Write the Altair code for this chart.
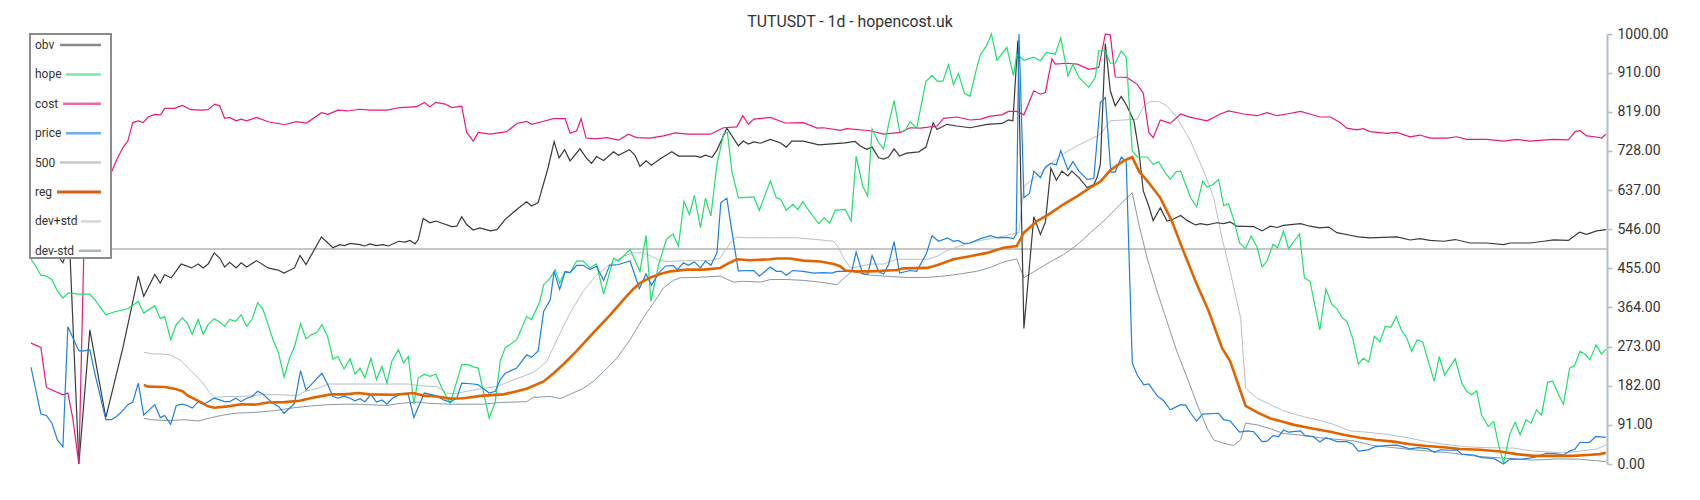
import altair as alt
import pandas as pd

title_text = "TUTUSDT - 1d - hopencost.uk"
legend_names = ["obv", "hope", "cost", "price", "500", "reg", "dev+std", "dev-std"]
y_ticks = [0, 91, 182, 273, 364, 455, 546, 637, 728, 819, 910, 1000]
ref_level = [500]

# (day, value) pairs
obv_pts = [(0,510),(2,515),(4,500),(5.8,468),(7,515),(8.7,0),(10.7,312),(13.6,108),(16.7,270),(19.5,437),(20.5,390),(22.5,441),(23.5,421),(24.3,440),(25.5,433),(27.3,465),(29.2,456),(30.4,465),(31.3,456),(32.2,465),(33.3,491),(34.3,479),(35.2,458),(36.1,469),(37.3,456),(38.2,468),(39.2,458),(41,473),(43.1,456),(44.9,451),(46,444),(47.9,456),(48.9,485),(50,464),(52.8,528),(54.9,503),(56.1,510),(57,508),(58,513),(59.8,510),(60.7,507),(61.6,512),(62.8,508),(64,510),(65,507),(66.8,518),(68,516),(68.9,520),(69.8,512),(70.4,522),(71.3,571),(72.5,561),(73.6,565),(76.5,552),(77.4,553),(78.3,575),(79.2,557),(80.4,544),(81.6,549),(83.5,542),(84.7,545),(86.2,569),(88.3,592),(90.1,610),(91,600),(92.2,608),(94,689),(95.1,750),(96,712),(97,731),(98,705),(99.8,733),(101,711),(101.9,699),(102.8,715),(104.1,706),(105.9,726),(106.8,718),(108.8,731),(109.8,718),(110.7,692),(111.8,705),(112.8,695),(114.4,710),(116.5,726),(117.7,716),(119.2,716),(120.8,716),(121.7,713),(122.6,718),(123.8,713),(124.7,730),(126.5,781),(128.6,740),(129.5,751),(130.4,744),(131.4,749),(132.6,746),(134.4,755),(136.2,747),(137.3,737),(138.3,751),(140.4,751),(143.2,742),(145,744),(148,747),(149.8,750),(150.7,740),(151.9,732),(152.9,737),(154.1,712),(155,709),(155.9,714),(156.9,733),(157.9,716),(159.2,723),(161.4,726),(162.7,737),(164,793),(164.7,778),(166.5,790),(168.3,786),(170.7,782),(173.8,790),(176.5,792),(177.7,800),(178.5,798),(179.4,985),(180.5,315),(182.3,575),(183.5,534),(184.4,562),(185.4,688),(186.4,660),(187.4,681),(188.5,670),(189.2,681),(190.5,666),(192,643),(193.2,650),(193.8,666),(194.4,697),(195.3,978),(196.2,868),(197.1,833),(198.2,855),(199.2,833),(200.5,798),(201.4,728),(202.2,635),(203.2,600),(204,566),(205.3,596),(206.5,565),(207.4,568),(209,578),(210.2,566),(211.7,556),(212.6,559),(213.8,556),(215.6,561),(216.8,559),(218,563),(219.2,553),(222.3,552),(223.8,542),(225.3,553),(226.5,550),(227.7,555),(230.8,559),(232.5,553),(234.3,549),(235.9,551),(237.4,538),(239.8,532),(241.3,528),(243.4,526),(245.8,527),(248.3,528),(250.7,521),(252.5,524),(254.3,520),(256.8,518),(258.9,522),(261.6,514),(264.6,514),(267.7,510),(268.9,514),(272.5,514),(275,518),(276.8,521),(279.5,520),(281.5,539),(282.8,534),(284.6,542),(286.3,545)]

hope_pts = [(0,476),(0.7,464),(1.8,439),(2.8,437),(3.8,429),(4.8,402),(5.8,386),(6.8,398),(8.7,395),(10.7,395),(11.6,382),(13.6,347),(15.2,354),(17.6,361),(19.5,378),(20.5,351),(22.5,368),(23.5,338),(24.3,343),(25.4,289),(26.4,324),(27.5,340),(28.4,328),(29.3,302),(30.4,336),(31.3,302),(32.2,324),(33.3,338),(34.3,330),(35.2,320),(36.1,336),(37.2,332),(38.2,347),(39.2,320),(40.2,337),(41.2,375),(42.2,359),(44,289),(45,258),(46,202),(47,246),(47.9,273),(49,326),(50,291),(51,301),(51.9,305),(52.9,324),(53.9,297),(54.9,244),(55.8,250),(56.9,221),(58,245),(58.9,209),(59.8,223),(60.7,201),(61.8,246),(62.8,196),(63.8,227),(64.7,188),(65.6,239),(66.8,266),(67.7,235),(68.6,250),(69.6,139),(70.4,200),(71.5,209),(72.5,204),(73.6,209),(74.7,176),(76.2,141),(77.4,192),(78.3,231),(79.5,231),(80.4,226),(81.3,223),(83.3,106),(84.4,145),(85.3,239),(86.2,270),(88.3,289),(90.1,343),(91,336),(92.5,378),(93.2,417),(94.4,433),(95.3,452),(96.1,421),(97.1,448),(98,445),(99.2,472),(100.4,472),(101.6,456),(102.8,465),(104.1,395),(105.9,478),(106.8,472),(108.9,499),(110.7,448),(111.8,532),(112.7,378),(114.1,464),(115.5,522),(116.7,535),(117.7,507),(118.7,611),(119.7,580),(120.6,625),(121.7,549),(122.6,618),(123.6,577),(124.7,697),(125.9,768),(126.6,771),(127.4,681),(128.6,619),(131.4,621),(132.4,590),(134.4,658),(135.5,619),(136.3,615),(137.3,590),(138.5,604),(139.4,592),(140.3,610),(141.7,584),(143.2,559),(144.2,573),(145.2,560),(146.2,590),(148,592),(149.1,565),(150,716),(151.2,646),(152.1,623),(152.9,779),(154.1,747),(155,733),(155.9,790),(156.9,845),(157.9,773),(158.9,775),(159.8,796),(161,781),(162.7,890),(163.8,904),(164.8,890),(165.8,891),(166.8,929),(167.7,882),(168.6,908),(169.7,862),(170.7,855),(171.8,915),(172.6,952),(173.7,973),(174.6,1000),(175.6,939),(177.4,969),(178.6,903),(179.2,953),(180.5,939),(182.3,946),(183.5,938),(184.6,957),(186.2,953),(187.2,991),(188.5,903),(189.4,929),(190.5,899),(192.3,876),(193.5,900),(194.1,961),(195.3,961),(196.2,932),(197.1,932),(198.2,961),(199.1,946),(200.2,728),(201.1,714),(202.9,714),(204,697),(205,703),(205.9,683),(207.1,662),(208.2,680),(209,681),(209.9,650),(210.8,619),(211.9,598),(213,658),(213.8,644),(214.9,650),(215.9,662),(216.8,601),(217.7,605),(218.6,570),(219.7,514),(220.8,501),(221.8,530),(222.9,504),(223.8,458),(224.7,472),(225.8,511),(226.6,503),(227.7,542),(228.6,501),(230.6,535),(231.5,433),(232.5,425),(234.3,312),(235.4,407),(236.5,371),(237.4,361),(238.3,341),(239.2,332),(240.3,291),(241.3,232),(242.2,246),(243.2,237),(244.2,297),(245.2,284),(246.2,320),(247.2,318),(248.2,343),(249.1,312),(250.1,293),(251,262),(252,289),(253,284),(254,239),(255.1,192),(256,250),(257,207),(257.8,223),(258.9,245),(260.1,188),(261,169),(261.9,161),(262.8,170),(263.7,114),(264.9,87),(265.9,99),(266.8,44),(267.7,2),(268.8,69),(269.8,97),(270.7,68),(271.8,103),(272.7,95),(273.7,126),(274.6,114),(275.7,190),(276.6,193),(277.7,161),(278.6,139),(279.7,223),(280.6,229),(281.6,262),(282.5,256),(283.4,242),(284.5,277),(285.5,256),(286.3,267)]

cost_pts = [(0,281),(1.8,271),(2.8,178),(3.8,172),(5.8,161),(6.7,165),(7.6,106),(8.7,0),(9.8,600),(12,645),(14.6,678),(15.5,705),(16.7,736),(17.6,751),(18.5,794),(19.5,798),(20.4,794),(21.3,807),(22.5,813),(23.6,812),(24.3,827),(26.1,827),(27.5,834),(29.1,824),(31,823),(32.2,824),(33.4,837),(34.3,833),(35.2,804),(36.1,806),(37.3,798),(38.2,802),(39.2,798),(41,806),(43.1,796),(46.1,789),(48.2,796),(50.1,793),(52.8,817),(54,813),(55.8,823),(57.6,821),(59.8,825),(61.6,823),(64.7,823),(67.1,829),(70.1,831),(71.5,841),(72.5,831),(73.6,841),(75.3,837),(76.5,829),(78.3,832),(79.2,771),(80.4,751),(81.3,771),(83.5,767),(86.5,773),(88.3,792),(90.1,797),(91,790),(93.2,797),(95,803),(97.1,803),(98,769),(99.2,775),(100,803),(100.9,758),(102.5,756),(104.7,759),(106.8,753),(108.6,767),(110.1,759),(112.5,758),(115,763),(117.1,770),(119.5,767),(123.5,767),(125.9,782),(128.3,784),(129.4,810),(130.4,790),(131.4,802),(134.4,806),(137.1,793),(140.4,794),(142.9,781),(144.1,782),(147.1,776),(148.3,780),(152.6,775),(155,767),(158,771),(159.8,782),(161.7,781),(164.7,786),(165.9,804),(168.3,807),(170.7,800),(172.6,802),(174.4,809),(176.5,812),(177.7,820),(179.2,820),(180.5,812),(182.3,868),(183.5,860),(184.4,864),(185.6,942),(186.2,930),(188.3,932),(190.2,930),(192.3,918),(194.1,922),(195.3,1000),(196.2,998),(197.1,900),(199.2,899),(201.1,883),(202.2,862),(203.2,771),(204,759),(205.3,800),(207.1,792),(209,814),(210.8,806),(213.8,798),(216.2,814),(217.7,821),(220.5,814),(222.9,810),(224.7,817),(226.5,810),(228.3,814),(230.8,820),(232.5,814),(234.3,807),(236.2,807),(238,794),(239.2,781),(241,777),(242.2,780),(243.4,773),(246.5,769),(248.3,771),(250.7,761),(252.5,765),(254.3,758),(257.4,758),(259.2,761),(261,755),(264.6,755),(267.7,751),(270.1,755),(272.5,751),(276.8,755),(279.5,754),(280.7,773),(281.6,775),(282.8,763),(284.3,761),(285.5,758),(286.3,767)]

price_pts = [(0,225),(1.8,116),(2.8,113),(3.8,95),(4.8,56),(5.8,40),(6.7,319),(8.7,263),(9.7,263),(10.7,266),(11.6,211),(13.6,103),(14.6,103),(15.5,110),(16.7,124),(17.6,138),(18.5,144),(19.5,188),(20.5,114),(22.5,138),(23.5,108),(24.3,113),(25.4,92),(26.4,136),(27.5,139),(28.4,136),(29.3,130),(30.4,145),(31.3,138),(32.2,145),(33.3,153),(34.3,149),(35.2,145),(36.1,145),(37.2,153),(38.2,145),(39.2,153),(40.2,157),(41.2,169),(42.2,162),(44,141),(45,134),(46,118),(47.9,141),(49,217),(50,172),(51.9,198),(52.9,211),(53.9,186),(54.9,157),(55.8,153),(56.9,158),(58,153),(58.9,147),(59.8,152),(60.7,145),(61.8,162),(62.8,144),(63.8,149),(64.7,139),(65.9,155),(67.1,161),(68.6,161),(69.6,108),(71.5,165),(73.6,159),(75,149),(76.2,144),(77.4,153),(78.3,188),(80.4,186),(81.3,184),(83.3,165),(84.4,169),(85.3,196),(86.2,211),(88.3,223),(90.1,254),(91,248),(92.2,263),(93.2,355),(94.4,382),(95.1,448),(96.1,406),(97.1,447),(98,445),(99.2,462),(100.4,462),(101.6,452),(102.8,460),(104.1,427),(105.2,462),(106.8,464),(108.9,472),(110.6,408),(111.8,442),(112.8,416),(114.1,444),(115.3,460),(116.7,462),(117.5,452),(118.6,468),(119.5,462),(120.6,470),(121.7,456),(122.6,472),(123.6,462),(124.7,491),(125.4,608),(126.5,618),(127.4,542),(128.6,449),(131.4,450),(132.4,437),(134.4,458),(135.5,448),(136.4,448),(137.3,439),(138.5,450),(140.4,448),(142.3,444),(144.1,445),(145.6,444),(146.5,448),(149.2,448),(150,493),(151.2,442),(152.1,441),(152.9,485),(154.1,447),(155,442),(155.9,464),(156.9,517),(157.9,444),(159.8,450),(161,448),(162.7,487),(163.8,531),(165,518),(166.6,526),(167.7,518),(168.6,520),(169.5,513),(170.7,514),(172.6,524),(174.5,531),(175.6,526),(177.4,527),(178.6,524),(179.1,534),(179.6,1000),(180.5,619),(181.5,629),(182.3,681),(183.5,666),(184.4,691),(185.4,699),(186.4,696),(187.2,729),(188.5,684),(189.4,703),(190.5,681),(192,662),(193.2,664),(194.4,841),(195.3,852),(196.3,679),(197.1,679),(198.2,714),(199.1,703),(200.2,235),(201.1,207),(202.3,184),(203.2,186),(204.7,159),(205.9,147),(207.1,126),(209,138),(209.9,137),(210.8,118),(211.9,100),(213,116),(215.9,118),(216.8,103),(218,100),(219.7,74),(221.1,77),(222.3,75),(223.8,52),(224.7,53),(225.8,66),(226.8,64),(227.7,79),(228.6,74),(230.8,77),(231.6,66),(233.1,64),(234.3,51),(235.4,61),(236.4,57),(237.4,52),(239.2,52),(240.3,46),(241.3,30),(243.1,33),(244.3,40),(246.2,43),(248.3,44),(250.7,35),(252.2,38),(254,35),(255.1,27),(256.2,33),(258,32),(259.2,33),(260.1,23),(262.2,21),(263.7,15),(265.9,13),(267.7,0),(268.9,12),(270.7,11),(273.1,15),(275.5,25),(277,24),(278.6,21),(279.7,30),(280.7,35),(281.6,50),(283.3,50),(284.5,64),(286.3,62)]

reg_pts = [(20.5,184),(21.3,180),(24.3,179),(26.1,175),(27.6,169),(28.5,159),(30.4,147),(32.2,134),(33.3,131),(35.8,134),(38.2,139),(40.7,138),(43.1,143),(46.1,144),(48.8,147),(51.6,155),(54.6,162),(57,162),(59.5,165),(61.6,162),(65.9,161),(69.5,165),(71.3,159),(73.8,157),(76.2,152),(78.6,153),(82.2,159),(85.9,162),(88.3,169),(90.1,175),(93.2,192),(95,211),(96.8,232),(99.2,263),(102.2,305),(105.3,347),(107.7,382),(109.5,407),(110.7,421),(112.5,433),(114.4,442),(116.2,448),(119.2,452),(122.3,452),(125.3,456),(126.5,465),(128.3,476),(130.7,474),(134.4,476),(135.6,478),(138,478),(140.4,473),(143.5,471),(145.9,465),(147.1,460),(148,450),(150.1,448),(152.6,448),(157.4,451),(158.6,455),(162.9,456),(164.7,462),(167.7,476),(170.7,483),(173.8,491),(176.8,503),(179.2,507),(180.5,538),(182.9,565),(185.3,583),(187.7,604),(190.2,623),(192.6,643),(194.4,657),(196.2,683),(198.6,705),(200.2,714),(201.4,681),(203.2,654),(205.3,619),(207.4,565),(209.5,495),(211.7,425),(214.1,355),(216.5,270),(218,239),(220.8,135),(222.9,120),(225.3,106),(227.1,100),(229.6,91),(232,85),(234.4,79),(236.2,75),(238.6,68),(241.6,61),(244.6,56),(247.7,52),(250.7,46),(253.7,42),(256.8,39),(259.8,35),(263.4,33),(267.1,29),(270.1,23),(273.1,19),(276.8,19),(280.4,19),(282.8,21),(285.2,23),(286.3,26)]

dev_plus_pts = [(20.5,260),(21.9,256),(23.7,256),(25.5,253),(27.3,240),(29.2,215),(31,192),(32.5,166),(33.4,155),(35.8,157),(38.2,157),(41.9,161),(45.5,161),(48.5,159),(49.8,169),(52.2,176),(54,186),(57,186),(60,186),(64.7,186),(68.6,186),(70.7,182),(73.8,180),(75.6,165),(76.8,163),(79.2,169),(82.2,176),(84.7,180),(87.1,193),(89.5,204),(91.6,215),(93.8,239),(95.6,289),(98,351),(100.4,402),(102.8,439),(105.3,465),(107.7,483),(109.5,491),(111.3,491),(112.8,483),(114.4,473),(116.2,471),(119.2,473),(123.5,473),(125.3,479),(127.1,514),(128.3,528),(130.1,526),(134.4,526),(139.2,526),(142.9,522),(145.9,518),(146.8,503),(147.7,479),(149,456),(150.1,458),(152.6,465),(155,465),(157.4,476),(162.9,476),(164.7,483),(166.5,496),(168.9,507),(171.9,518),(174.4,524),(176.8,530),(179.6,538),(180.5,646),(182.9,670),(185.3,697),(187.7,722),(190.2,740),(192.6,755),(194.4,767),(196.2,798),(198.6,800),(201.1,802),(202.3,833),(203.5,843),(205,843),(206.5,833),(208.3,806),(210.8,751),(213.2,681),(215,619),(216.5,526),(218,448),(219.9,340),(220.8,176),(222.9,153),(225.3,138),(227.7,124),(230.2,114),(232.6,106),(234.4,101),(236.8,92),(239.8,77),(242.8,74),(246.5,69),(250.7,60),(253.7,52),(256.8,46),(261,40),(264.6,38),(269.5,37),(273.1,30),(278.6,26),(281.6,30),(284.6,35),(286.3,44)]

dev_minus_pts = [(20.5,106),(21.9,103),(24.9,101),(27.9,103),(30.4,100),(32.2,106),(34.6,113),(37.1,118),(40.7,120),(44.3,124),(47.9,131),(51,135),(54,138),(57,139),(60,139),(61.6,138),(64.7,136),(67.1,141),(70.1,144),(72.5,141),(76.2,139),(82.2,139),(85.3,143),(90.1,145),(91.3,155),(94.4,157),(96.2,152),(98,162),(100.4,176),(102.2,192),(104.1,215),(106.5,246),(108.9,289),(111.3,340),(113.2,375),(115,410),(116.8,427),(118,433),(121.1,434),(125.3,437),(127.7,423),(129.5,425),(132.6,423),(134.4,429),(137.4,429),(140.4,427),(143.5,423),(146.5,417),(147.7,431),(149.2,448),(152.6,439),(158.6,434),(162.9,434),(165.9,437),(168.9,442),(171.9,448),(174.4,457),(176.8,470),(179.2,477),(180.5,433),(182.9,452),(185.3,470),(187.7,487),(190.2,510),(192.6,538),(195,565),(197.4,596),(200.2,631),(201.4,557),(202.9,479),(204.7,402),(206.5,332),(208.3,262),(210.2,200),(212,138),(213.8,83),(215,56),(216.8,48),(218.6,43),(219.9,56),(220.8,95),(222.9,91),(225.3,82),(227.7,71),(230.2,68),(232.6,64),(234.4,61),(236.8,58),(240.4,54),(244,43),(247.7,38),(251.3,33),(254.9,29),(258.6,25),(262.2,19),(265.9,15),(269.5,12),(273.1,9),(277.9,12),(281.6,11),(285.2,7),(286.3,5)]

series_data = {
    "obv": obv_pts, "hope": hope_pts, "cost": cost_pts, "price": price_pts,
    "reg": reg_pts, "dev+std": dev_plus_pts, "dev-std": dev_minus_pts,
}

line_colors = {"obv": "#3a3a3a", "hope": "#1fe06c", "cost": "#e8197f", "price": "#1c80e2",
               "500": "#c6c6c6", "reg": "#e06400", "dev+std": "#b9c0c6", "dev-std": "#8a98a4"}
legend_colors = {"obv": "#8a8a8a", "hope": "#7ee8a6", "cost": "#ec6aaa", "price": "#6fb0ec",
                 "500": "#c8c8c8", "reg": "#d96010", "dev+std": "#d3d8dc", "dev-std": "#a9b4bd"}
line_widths = {"obv": 1.2, "hope": 1.2, "cost": 1.2, "price": 1.2, "reg": 2.6,
               "dev+std": 1.0, "dev-std": 1.0}

rows = []
for name, pts in series_data.items():
    for d, v in pts:
        rows.append({"series": name, "day": d, "value": v})
df = pd.DataFrame(rows)

W, H = 1576, 430
FONT = "Roboto"
xs = alt.Scale(domain=[0, 286.5], nice=False, zero=False)
ys = alt.Scale(domain=[0, 1000], nice=False, zero=False)
yaxis = alt.Axis(orient="right", values=y_ticks, format=".2f", grid=False, title=None,
                 labelFontSize=14, labelColor="#333333", labelFont=FONT,
                 domainColor="#b4bec6", domainWidth=2, tickColor="#b4bec6",
                 tickWidth=1.5, tickSize=5, labelPadding=5)


def line_layer(name):
    return alt.Chart(df).transform_filter(alt.datum.series == name).mark_line(
        color=line_colors[name], strokeWidth=line_widths[name]
    ).encode(
        x=alt.X("day:Q", scale=xs, axis=None),
        y=alt.Y("value:Q", scale=ys, axis=yaxis),
    )


rule500 = alt.Chart(pd.DataFrame({"value": ref_level})).mark_rule(
    color=line_colors["500"], strokeWidth=2
).encode(y=alt.Y("value:Q", scale=ys, axis=yaxis))

layers = [rule500]
for nm in ["dev+std", "dev-std", "obv", "cost", "hope", "price", "reg"]:
    layers.append(line_layer(nm))

# legend box
dummy = pd.DataFrame({"a": [0]})
layers.append(alt.Chart(dummy).mark_rect(fill="white", stroke="#8c8c8c", strokeWidth=2).encode(
    x=alt.value(-1), x2=alt.value(80), y=alt.value(0), y2=alt.value(224)))
sym_start = [29, 35, 32, 35, 29, 26, 50, 48]
for i, nm in enumerate(legend_names):
    yy = 11 + 29.4 * i
    layers.append(alt.Chart(pd.DataFrame({"t": [nm]})).mark_text(
        align="left", baseline="middle", fontSize=12, font=FONT, color="#333333"
    ).encode(text="t:N", x=alt.value(4), y=alt.value(yy)))
    layers.append(alt.Chart(dummy).mark_rule(
        color=legend_colors[nm], strokeWidth=3 if nm == "reg" else 2.5
    ).encode(x=alt.value(sym_start[i]), x2=alt.value(70), y=alt.value(yy)))

# title
layers.append(alt.Chart(pd.DataFrame({"t": [title_text]})).mark_text(
    align="center", baseline="alphabetic", fontSize=15.8, font=FONT, color="#333333"
).encode(text="t:N", x=alt.value(819), y=alt.value(-7.5)))

chart = alt.layer(*layers).properties(
    width=W, height=H,
    padding={"left": 23, "top": 26, "right": 85, "bottom": 28},
    autosize=alt.AutoSizeParams(type="none"),
).configure_view(stroke=None)

chart.save("out.html", embed_options={"renderer": "svg", "actions": False})
